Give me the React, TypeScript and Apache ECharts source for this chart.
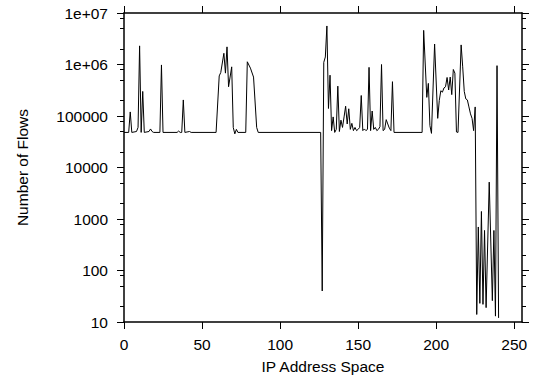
import { useEffect, useRef } from "react";
import * as echarts from "echarts";

// Axis tick values
const xTickValues = [0, 50, 100, 150, 200, 250];
const yMajorExponents = [1, 2, 3, 4, 5, 6, 7];
const yMinorFactors = [2, 5, 8];

// Series: number of flows per /8 of the IP address space
const flowX = [
  0, 3, 4, 5, 8, 9, 10, 11, 12, 13,
  16, 17, 18, 19, 23, 24, 25, 34, 35, 36,
  37, 38, 39, 42, 43, 59, 61, 62, 64, 65,
  66, 67, 69, 70, 71, 72, 73, 78, 79, 81,
  83, 85, 86, 126, 127, 128, 129, 130, 131, 132,
  133, 134, 135, 136, 137, 138, 139, 140, 141, 142,
  143, 144, 145, 146, 147, 148, 149, 150, 151, 152,
  153, 154, 155, 156, 157, 158, 159, 160, 161, 162,
  163, 164, 165, 166, 167, 168, 169, 170, 171, 172,
  173, 191, 192, 194, 195, 196, 197, 199, 201, 202,
  203, 204, 205, 206, 207, 208, 209, 210, 211, 212,
  213, 214, 216, 217, 218, 219, 220, 221, 222, 223,
  224, 225, 226, 227, 228, 229, 230, 231, 232, 234,
  236, 237, 238, 239, 240,
];
const flowY = [
  48000, 48000, 120000, 48000, 50000, 60000, 2300000, 48000, 300000, 48000,
  50000, 56000, 50000, 48000, 48000, 980000, 48000, 48000, 51000, 48000,
  48000, 205000, 48000, 50000, 48000, 48000, 600000, 700000, 1650000, 680000,
  2200000, 370000, 900000, 60000, 45000, 55000, 48000, 48000, 1130000, 850000,
  570000, 60000, 48000, 48000, 40, 1100000, 1400000, 5600000, 140000, 620000,
  52000, 96000, 48000, 55000, 380000, 50000, 83000, 60000, 96000, 155000,
  70000, 138000, 55000, 72000, 52000, 60000, 52000, 55000, 60000, 250000,
  52000, 56000, 52000, 55000, 880000, 52000, 125000, 55000, 60000, 52000,
  55000, 62000, 1000000, 52000, 55000, 85000, 70000, 58000, 52000, 464000,
  48000, 48000, 4600000, 230000, 430000, 65000, 46000, 2500000, 90000, 200000,
  310000, 290000, 350000, 370000, 560000, 320000, 570000, 260000, 800000, 680000,
  49000, 48000, 2400000, 900000, 300000, 215000, 205000, 150000, 110000, 90000,
  52000, 150000, 14, 700, 23, 1400, 22, 600, 19, 5200,
  26, 600, 13, 950000, 12,
];

const FONT = "'Liberation Sans', Arial, Helvetica, sans-serif";

export default function App() {
  const ref = useRef<HTMLDivElement>(null);

  useEffect(() => {
    if (!ref.current) return;
    const chart = echarts.init(ref.current, null, { renderer: "svg" });

    const minorLogs: number[] = [];
    for (let e = yMajorExponents[0]; e < yMajorExponents[yMajorExponents.length - 1]; e++) {
      for (const f of yMinorFactors) minorLogs.push(Math.log10(f * Math.pow(10, e)));
    }
    const yLo = yMajorExponents[0];
    const yHi = yMajorExponents[yMajorExponents.length - 1];

    const line = { color: "#000", width: 1.5 };
    const tickLine = { color: "#000", width: 1 };
    const textStyle = { color: "#000", fontSize: 15.5, fontFamily: FONT };

    const logAxis = (position: "left" | "right") => ({
      type: "log" as const,
      logBase: 10,
      min: Math.pow(10, yLo),
      max: Math.pow(10, yHi),
      position,
      axisLine: { show: true, onZero: false, lineStyle: line },
      axisTick: { show: false },
      axisLabel: { show: false },
      splitLine: { show: false },
      minorTick: { show: false },
      minorSplitLine: { show: false },
    });
    const majorAxis = (position: "left" | "right", labels: boolean) => ({
      type: "value" as const,
      min: yLo,
      max: yHi,
      interval: 1,
      position,
      axisLine: { show: false, onZero: false },
      axisTick: { show: true, inside: false, length: 7, lineStyle: tickLine },
      axisLabel: labels
        ? {
            show: true,
            margin: 16,
            ...textStyle,
            formatter: (v: number) =>
              v >= 6 ? `1e+0${Math.round(v)}` : String(Math.round(Math.pow(10, v))),
          }
        : { show: false },
      splitLine: { show: false },
      ...(labels
        ? {
            name: "Number of Flows",
            nameLocation: "middle" as const,
            nameRotate: 90,
            nameGap: 94,
            nameTextStyle: textStyle,
          }
        : {}),
    });
    const minorAxis = (position: "left" | "right") => ({
      type: "value" as const,
      min: yLo,
      max: yHi,
      position,
      axisLine: { show: false, onZero: false },
      axisTick: { show: true, inside: false, length: 4, customValues: minorLogs, lineStyle: tickLine },
      axisLabel: { show: false },
      splitLine: { show: false },
    });
    const xAxis = (position: "bottom" | "top") => ({
      type: "value" as const,
      min: 0,
      max: 255,
      position,
      axisLine: { show: true, onZero: false, lineStyle: line },
      axisTick: { show: true, inside: false, length: 7, customValues: xTickValues, lineStyle: tickLine },
      axisLabel:
        position === "bottom"
          ? { show: true, customValues: xTickValues, margin: 14, ...textStyle }
          : { show: false },
      splitLine: { show: false },
      ...(position === "bottom"
        ? {
            name: "IP Address Space",
            nameLocation: "middle" as const,
            nameGap: 36,
            nameTextStyle: textStyle,
          }
        : {}),
    });

    chart.setOption({
      animation: false,
      backgroundColor: "#fff",
      grid: { left: 124, right: 23, top: 13, bottom: 61, containLabel: false },
      xAxis: [xAxis("bottom"), xAxis("top")],
      yAxis: [
        logAxis("left"),
        majorAxis("left", true),
        minorAxis("left"),
        logAxis("right"),
        majorAxis("right", false),
        minorAxis("right"),
      ],
      series: [
        {
          type: "line",
          xAxisIndex: 0,
          yAxisIndex: 0,
          data: flowX.map((x, i) => [x, flowY[i]]),
          symbol: "none",
          showSymbol: false,
          silent: true,
          lineStyle: { color: "#000", width: 1 },
        },
      ],
    });

    return () => chart.dispose();
  }, []);

  return (
    <div
      ref={ref}
      style={{ position: "fixed", left: 0, top: 0, width: 545, height: 383, background: "#fff" }}
    />
  );
}
